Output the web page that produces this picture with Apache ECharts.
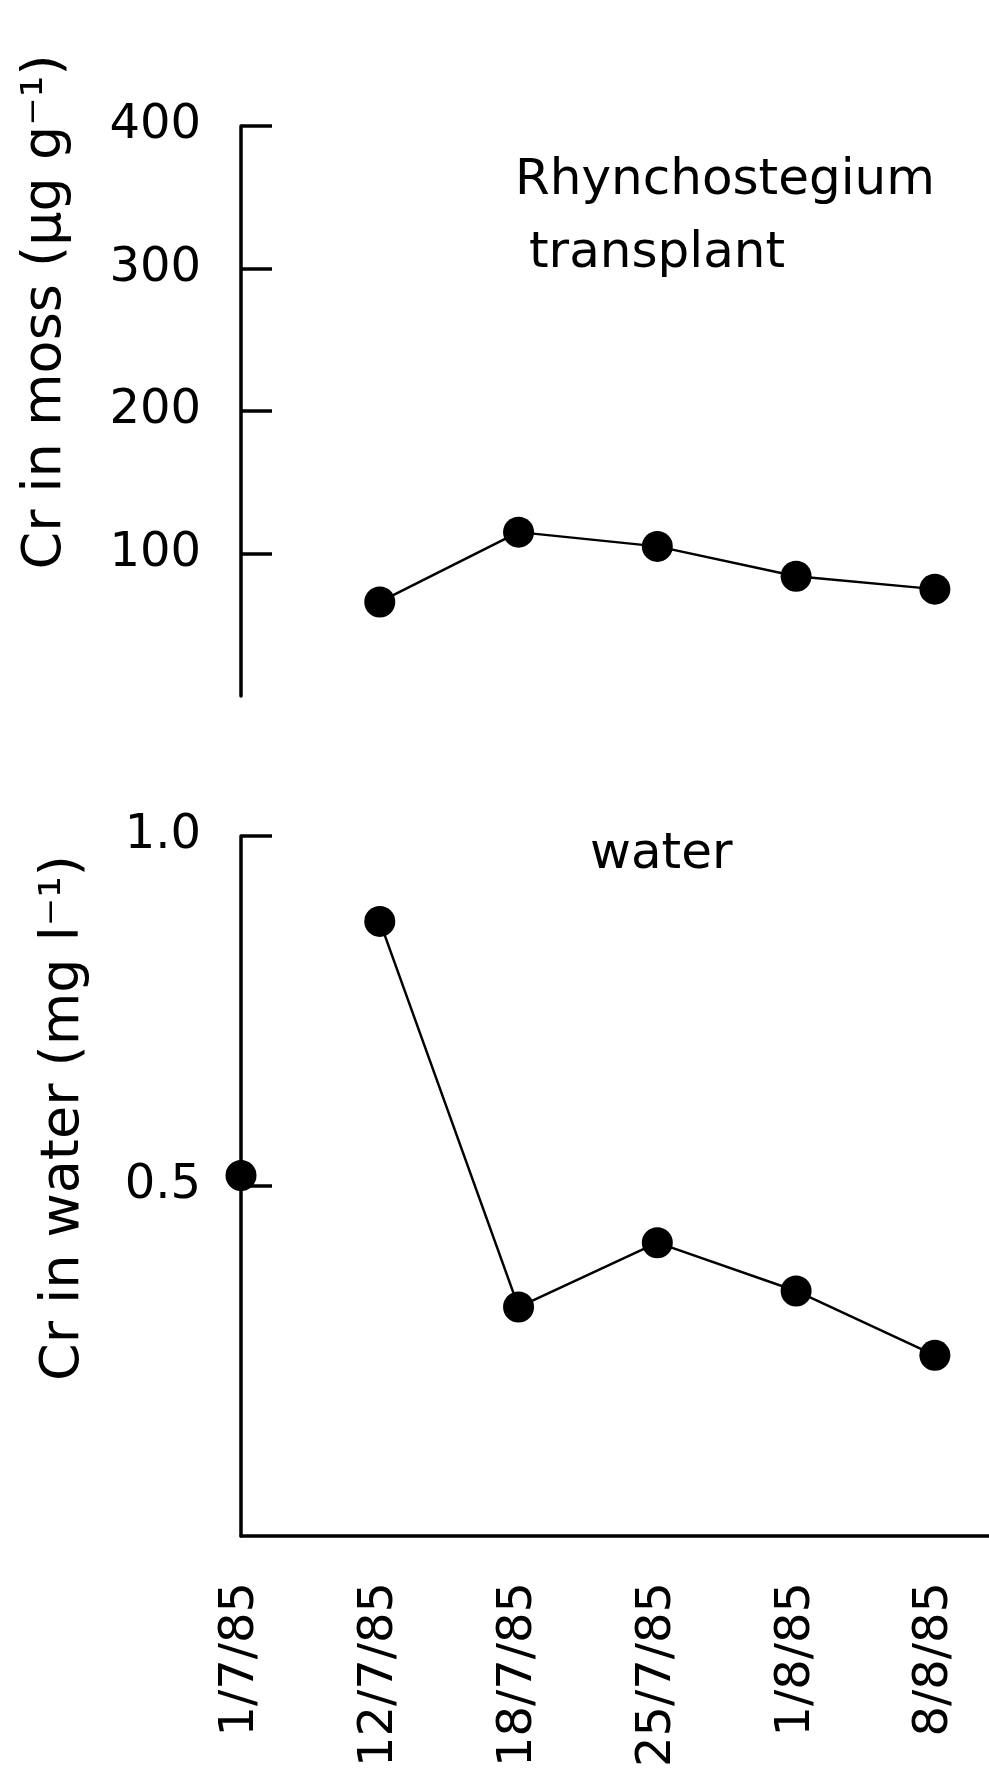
<!DOCTYPE html>
<html>
<head>
<meta charset="utf-8">
<script src="https://cdn.jsdelivr.net/npm/echarts@6/dist/echarts.min.js"></script>
<style>
html,body{margin:0;padding:0;background:#fff;}
#chart{width:989px;height:1770px;}
</style>
</head>
<body>
<div id="chart"></div>
<script>
// ---- data ----
const categories = ['1/7/85', '12/7/85', '18/7/85', '25/7/85', '1/8/85', '8/8/85'];
const mossValues = [null, 66, 115, 105, 84, 75];          // Cr in moss (µg g-1)
const waterValues = [0.515, 0.878, 0.327, 0.419, 0.350, 0.258]; // Cr in water (mg l-1)
const waterJoined = [false, true, true, true, true, true];
const mossTicks = [100, 200, 300, 400];
const waterTicks = [0.5, 1.0];
const mossTitle = ['Rhynchostegium', 'transplant'];
const waterTitle = 'water';
const mossAxisName = 'Cr in moss (µg g⁻¹)';
const waterAxisName = 'Cr in water (mg l⁻¹)';

// ---- chart ----
const FONT = '"DejaVu Sans", sans-serif';
const idx = categories.map((_, i) => i);
const xMax = 5.39;

const mossData = mossValues.map((v, i) => v == null ? null : [i, v]).filter(d => d);
const waterLine = waterValues.map((v, i) => waterJoined[i] ? [i, v] : null).filter(d => d);
const waterSingle = waterValues.map((v, i) => !waterJoined[i] ? [i, v] : null).filter(d => d);

function yAxisCommon(ticks, fmt) {
  return {
    type: 'value',
    axisLine: { show: true, lineStyle: { color: '#000', width: 3.5 } },
    axisTick: { show: true, inside: true, length: 31, customValues: ticks, lineStyle: { color: '#000', width: 3.5 } },
    axisLabel: { customValues: ticks, margin: 40, fontSize: 48, color: '#000', fontFamily: FONT, formatter: fmt },
    splitLine: { show: false }
  };
}

const option = {
  animation: false,
  backgroundColor: '#fff',
  grid: [
    { left: 241, right: 0, top: 126, height: 570 },
    { left: 241, right: 0, top: 836, height: 705 }
  ],
  xAxis: [
    { gridIndex: 0, type: 'value', min: 0, max: xMax, show: false },
    {
      gridIndex: 1, type: 'value', min: 0, max: xMax,
      axisLine: { show: true, lineStyle: { color: '#000', width: 3.5 } },
      axisTick: { show: false },
      splitLine: { show: false },
      axisLabel: {
        customValues: idx, rotate: 90, margin: 46, fontSize: 48, color: '#000', fontFamily: FONT,
        formatter: v => categories[Math.round(v)]
      }
    }
  ],
  yAxis: [
    Object.assign({ gridIndex: 0, min: 0, max: 400 }, yAxisCommon(mossTicks, v => String(v))),
    Object.assign({ gridIndex: 1, min: 0, max: 1.0 }, yAxisCommon(waterTicks, v => v.toFixed(1)))
  ],
  series: [
    {
      type: 'line', xAxisIndex: 0, yAxisIndex: 0, data: mossData,
      symbol: 'circle', symbolSize: 31,
      lineStyle: { color: '#000', width: 2.5 }, itemStyle: { color: '#000', opacity: 1 }
    },
    {
      type: 'line', xAxisIndex: 1, yAxisIndex: 1, data: waterLine,
      symbol: 'circle', symbolSize: 31,
      lineStyle: { color: '#000', width: 2.5 }, itemStyle: { color: '#000', opacity: 1 }
    },
    {
      type: 'scatter', xAxisIndex: 1, yAxisIndex: 1, data: waterSingle, z: 5,
      symbol: 'circle', symbolSize: 31, itemStyle: { color: '#000', opacity: 1 }
    }
  ],
  graphic: [
    { type: 'text', left: 515, top: 156, style: { text: mossTitle[0], font: '50px ' + FONT, fill: '#000' } },
    { type: 'text', left: 529, top: 229, style: { text: mossTitle[1], font: '50px ' + FONT, fill: '#000' } },
    { type: 'text', left: 590, top: 830, style: { text: waterTitle, font: '50px ' + FONT, fill: '#000' } },
    { type: 'text', x: 46, y: 312, rotation: Math.PI / 2,
      style: { text: mossAxisName, font: '54px ' + FONT, fill: '#000', align: 'center', verticalAlign: 'middle' } },
    { type: 'text', x: 64, y: 1118, rotation: Math.PI / 2,
      style: { text: waterAxisName, font: '54px ' + FONT, fill: '#000', align: 'center', verticalAlign: 'middle' } }
  ]
};

const chart = echarts.init(document.getElementById('chart'), null, { renderer: 'canvas' });
chart.setOption(option);
</script>
</body>
</html>
